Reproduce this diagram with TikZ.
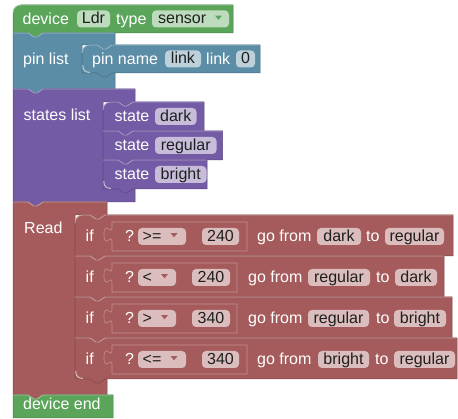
\documentclass[tikz,border=0pt]{standalone}
\usepackage{fontspec}
\setmainfont{Liberation Sans}
\definecolor{bgreen}{HTML}{5BA55B}
\definecolor{bblue}{HTML}{5B8DA6}
\definecolor{bpurple}{HTML}{745BA5}
\definecolor{bred}{HTML}{A55B5B}
\tikzset{
  blk/.style={fill=#1, draw=#1!78!black, line width=0.5pt, line join=round},
  hl/.style={draw=#1!55!white, line width=0.7pt, line join=round},
  lbl/.style={anchor=base west, text=white, inner sep=0pt, font=\fontsize{16}{19}\selectfont},
  fldtxt/.style={anchor=base, text=black!88, inner sep=0pt, font=\fontsize{16}{19}\selectfont},
}
% block with rounded top-left corner, no notch above, tab below
\newcommand\hatblock[5]{%
  \path[blk=#1] (#2,{#3+8}) .. controls (#2,{#3+3.6}) and ({#2+3.6},#3) .. ({#2+8},#3)
    -- (#4,#3) -- (#4,#5) -- ({#2+30},#5) -- ({#2+24},{#5+4}) -- ({#2+21},{#5+4})
    -- ({#2+15},#5) -- (#2,#5) -- cycle;
  \draw[hl=#1] (#2,{#3+8}) .. controls (#2,{#3+3.6}) and ({#2+3.6},#3) .. ({#2+8},#3) -- ({#4-0.4},#3);
}
% block with notch above and flat bottom
\newcommand\footblock[5]{%
  \path[blk=#1] (#2,#3) -- ({#2+15},#3) -- ({#2+21},{#3+4}) -- ({#2+24},{#3+4}) -- ({#2+30},#3)
    -- (#4,#3) -- (#4,#5) -- (#2,#5) -- cycle;
  \draw[hl=#1] (#2,#3) -- ({#2+15},#3) -- ({#2+21},{#3+4}) -- ({#2+24},{#3+4}) -- ({#2+30},#3) -- ({#4-0.4},#3);
}
% C-shaped block: colour, left, top, right, statement left, statement top, statement bottom, bottom
\newcommand\cblock[8]{%
  \path[blk=#1] (#2,#3) -- ({#2+15},#3) -- ({#2+21},{#3+4}) -- ({#2+24},{#3+4}) -- ({#2+30},#3)
    -- (#4,#3) -- (#4,#6) -- ({#5+30},#6) -- ({#5+24},{#6+4}) -- ({#5+21},{#6+4}) -- ({#5+15},#6)
    -- (#5,#6) -- (#5,#7) -- (#4,#7) -- (#4,#8) -- ({#2+30},#8) -- ({#2+24},{#8+4})
    -- ({#2+21},{#8+4}) -- ({#2+15},#8) -- (#2,#8) -- cycle;
  \draw[hl=#1] (#2,#3) -- ({#2+15},#3) -- ({#2+21},{#3+4}) -- ({#2+24},{#3+4}) -- ({#2+30},#3) -- ({#4-0.4},#3);
}
% statement child: colour, left, top, right, bottom, top-left radius
\newcommand\inblock[6]{%
  \path[blk=#1] (#2,{#3+#6}) .. controls (#2,{#3+0.45*#6}) and ({#2+0.45*#6},#3) .. ({#2+#6},#3)
    -- ({#2+15},#3) -- ({#2+21},{#3+4}) -- ({#2+24},{#3+4}) -- ({#2+30},#3)
    -- (#4,#3) -- (#4,#5) -- ({#2+30},#5) -- ({#2+24},{#5+4}) -- ({#2+21},{#5+4})
    -- ({#2+15},#5) -- (#2,#5) -- cycle;
  \draw[hl=#1] (#2,{#3+#6}) .. controls (#2,{#3+0.45*#6}) and ({#2+0.45*#6},#3) .. ({#2+#6},#3)
    -- ({#2+15},#3) -- ({#2+21},{#3+4}) -- ({#2+24},{#3+4}) -- ({#2+30},#3) -- ({#4-0.4},#3);
}
% light curve in the lower inner corner of a statement input
\newcommand\innercorner[3]{%
  \draw[#1!40!white, line width=1pt] ({#2+0.8},{#3-8}) .. controls ({#2+0.8},{#3-3}) and ({#2+3},{#3-0.6}) .. ({#2+8},{#3-0.6});
}
% value block with a puzzle tab on its left side
\newcommand\valblock[5]{%
  \path[fill=#1, draw=#1!68!white, line width=0.6pt, line join=round]
    (#2,#3) -- (#4,#3) -- (#4,#5) -- (#2,#5) -- (#2,{#3+20})
    .. controls (#2,{#3+10}) and ({#2-8},{#3+28}) .. ({#2-8},{#3+12.5})
    .. controls ({#2-8},{#3-3}) and (#2,{#3+15}) .. (#2,{#3+5}) -- cycle;
}
% text field: name, colour, x1, x2, centre y, text
\newcommand\fld[6]{%
  \path[fill=#2!40!white, rounded corners=4pt] (#3,{#5-8.5}) rectangle (#4,{#5+8.5});
  \node[fldtxt] (#1) at ({(#3+#4)/2},{#5+5}) {#6};
}
% dropdown field: name, colour, x1, x2, centre y, text, text x, arrow x
\newcommand\ddn[8]{%
  \path[fill=#2!40!white, rounded corners=4pt] (#3,{#5-8.5}) rectangle (#4,{#5+8.5});
  \node[fldtxt, anchor=base west] (#1) at (#7,{#5+5}) {#6};
  \fill[#2] ({#8-3.5},{#5-3.4}) -- ({#8+3.5},{#5-3.4}) -- (#8,{#5+0.8}) -- cycle;
}
% white label: name, x, baseline, text
\newcommand\lab[4]{\node[lbl] (#1) at (#2,#3) {#4};}
\begin{document}
\begin{tikzpicture}[x=1pt,y=-1pt]
\useasboundingbox (0,0) rectangle (458,419);
\fill[white] (0,0) rectangle (458,419);

% device header
\hatblock{bgreen}{13}{5}{233}{33}
\lab{devlbl}{22.5}{24.3}{device}
\fld{devname}{bgreen}{77}{110}{19}{Ldr}
\lab{typelbl}{116}{24.3}{type}
\ddn{devtype}{bgreen}{152}{229}{19}{sensor}{158}{218.5}

% pin list
\cblock{bblue}{13}{33}{115}{82}{45}{73}{89}
\inblock{bblue}{82}{45}{260}{73}{8}
\innercorner{bblue}{82}{73}
\lab{pinlbl}{23}{64.3}{pin list}
\lab{pinname}{92}{64.3}{pin name}
\fld{pinfld}{bblue}{165}{201}{59}{link}
\lab{pinlink}{206}{64.3}{link}
\fld{pinnum}{bblue}{236}{255}{59}{0}

% states list
\cblock{bpurple}{13}{89}{135}{103}{102}{189}{202}
\inblock{bpurple}{103}{102}{204}{131}{8}
\inblock{bpurple}{103}{131}{222.5}{160}{0}
\inblock{bpurple}{103}{160}{207}{189}{0}
\innercorner{bpurple}{103}{189}
\lab{stlbl}{23.5}{120.5}{states list}
\lab{st1}{114.5}{121.5}{state}
\fld{st1f}{bpurple}{155}{196.5}{116.5}{dark}
\lab{st2}{114.5}{150.5}{state}
\fld{st2f}{bpurple}{155}{216.5}{145.5}{regular}
\lab{st3}{114.5}{179.5}{state}
\fld{st3f}{bpurple}{155}{206.5}{174.5}{bright}

% read section
\cblock{bred}{13}{202}{107}{75}{215}{379}{395}
\inblock{bred}{75}{215}{453}{256}{8}
\inblock{bred}{75}{256}{444}{297}{0}
\inblock{bred}{75}{297}{452}{338}{0}
\inblock{bred}{75}{338}{457}{379}{0}
\innercorner{bred}{75}{379}
\lab{readlbl}{24}{233.5}{Read}

% rule 1
\lab{if1}{85.5}{241.5}{if}
\valblock{bred}{112}{222}{247}{251}
\lab{q1}{125}{241.5}{?}
\ddn{op1}{bred}{138}{186}{236.5}{>=}{142.5}{174}
\fld{n1}{bred}{202}{239}{236.5}{240}
\lab{go1}{257}{241.5}{go from}
\fld{a1}{bred}{317}{361}{236.5}{dark}
\lab{to1}{366}{241.5}{to}
\fld{b1}{bred}{385}{444}{236.5}{regular}

% rule 2
\lab{if2}{85.5}{282.5}{if}
\valblock{bred}{112}{263}{237}{292}
\lab{q2}{125}{282.5}{?}
\ddn{op2}{bred}{138}{176}{277.5}{<}{142.5}{164.5}
\fld{n2}{bred}{192}{230}{277.5}{240}
\lab{go2}{248}{282.5}{go from}
\fld{a2}{bred}{308}{370}{277.5}{regular}
\lab{to2}{376}{282.5}{to}
\fld{b2}{bred}{395}{437}{277.5}{dark}

% rule 3
\lab{if3}{85.5}{323.5}{if}
\valblock{bred}{112}{304}{237}{333}
\lab{q3}{125}{323.5}{?}
\ddn{op3}{bred}{138}{176}{318.5}{>}{142.5}{164.5}
\fld{n3}{bred}{192}{230}{318.5}{340}
\lab{go3}{248}{323.5}{go from}
\fld{a3}{bred}{308}{369}{318.5}{regular}
\lab{to3}{376}{323.5}{to}
\fld{b3}{bred}{394}{446}{318.5}{bright}

% rule 4
\lab{if4}{85.5}{364.5}{if}
\valblock{bred}{112}{345}{247}{374}
\lab{q4}{125}{364.5}{?}
\ddn{op4}{bred}{138}{186}{359.5}{<=}{142.5}{174}
\fld{n4}{bred}{202}{239}{359.5}{340}
\lab{go4}{257}{364.5}{go from}
\fld{a4}{bred}{318}{369}{359.5}{bright}
\lab{to4}{375}{364.5}{to}
\fld{b4}{bred}{394}{455}{359.5}{regular}

% device footer
\footblock{bgreen}{13}{395}{113}{418}
\lab{endlbl}{23}{409.8}{device end}
\end{tikzpicture}
\end{document}
